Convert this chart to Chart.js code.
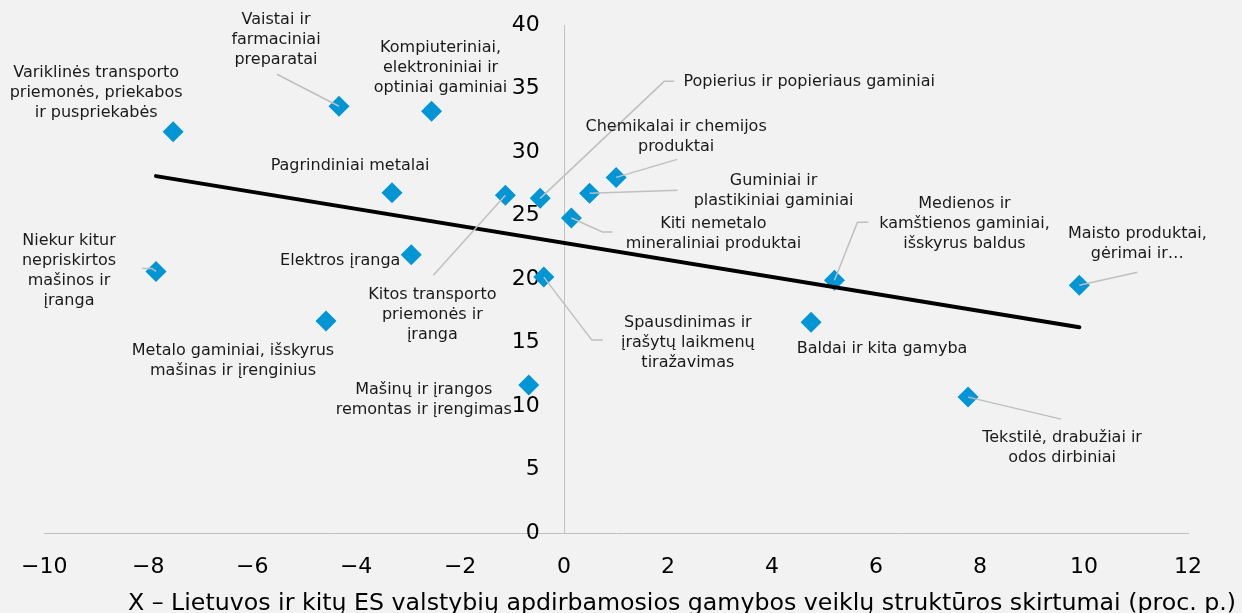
<!DOCTYPE html>
<html>
<head>
<meta charset="utf-8">
<script src="https://cdn.jsdelivr.net/npm/chart.js@4.4.1/dist/chart.umd.min.js"></script>
<style>
  html, body { margin: 0; padding: 0; background: #f2f2f2; }
  canvas { display: block; }
</style>
</head>
<body>
<canvas id="sector-chart" width="1242" height="613"></canvas>
<script>
// --- Data ---
const sectors = [
    'Variklinės transporto\npriemonės, priekabos\nir puspriekabės',
    'Vaistai ir\nfarmaciniai\npreparatai',
    'Kompiuteriniai,\nelektroniniai ir\noptiniai gaminiai',
    'Pagrindiniai metalai',
    'Kitos transporto\npriemonės ir\nįranga',
    'Popierius ir popieriaus gaminiai',
    'Chemikalai ir chemijos\nproduktai',
    'Guminiai ir\nplastikiniai gaminiai',
    'Kiti nemetalo\nmineraliniai produktai',
    'Elektros įranga',
    'Niekur kitur\nnepriskirtos\nmašinos ir\nįranga',
    'Spausdinimas ir\nįrašytų laikmenų\ntiražavimas',
    'Metalo gaminiai, išskyrus\nmašinas ir įrenginius',
    'Mašinų ir įrangos\nremontas ir įrengimas',
    'Medienos ir\nkamštienos gaminiai,\nišskyrus baldus',
    'Baldai ir kita gamyba',
    'Maisto produktai,\ngėrimai ir…',
    'Tekstilė, drabužiai ir\nodos dirbiniai'
];
const structureDiff = [-7.52, -4.33, -2.55, -3.31, -1.13, -0.46, 1.00, 0.49, 0.14, -2.94, -7.85, -0.39, -4.58, -0.68, 5.20, 4.75, 9.91, 7.77];
const sectorValue   = [31.6, 33.6, 33.2, 26.8, 26.6, 26.35, 28.0, 26.75, 24.8, 21.9, 20.6, 20.15, 16.7, 11.65, 19.9, 16.6, 19.5, 10.7];

// trend line ends (from min x to max x)
const trendX = [-7.85, 9.91];
const trendY = [28.1, 16.2];

const xTickValues = [-10, -8, -6, -4, -2, 0, 2, 4, 6, 8, 10, 12];
const yTickValues = [0, 5, 10, 15, 20, 25, 30, 35, 40];
const xTitle = 'X – Lietuvos ir kitų ES valstybių apdirbamosios gamybos veiklų struktūros skirtumai (proc. p.)';

// label placement in pixels relative to each marker: first line centre + leader polyline
const labelLayout = [
    { dx: -77, dy: -59 },
    { dx: -63, dy: -86, leader: [[-62, -32], [0, 0]] },
    { dx: 9, dy: -64 },
    { dx: -42, dy: -27 },
    { dx: -73, dy: 100, leader: [[-72, 80], [0, 0]] },
    { dx: 269, dy: -117, leader: [[0, 0], [124, -117], [134, -117]] },
    { dx: 60, dy: -51, leader: [[0, 0], [61, -18]] },
    { dx: 184, dy: -12, leader: [[0, 0], [88, -3]] },
    { dx: 142, dy: 6, leader: [[0, 0], [31, 14], [41, 14]] },
    { dx: -71, dy: 6 },
    { dx: -87, dy: -31, leader: [[-14, -3], [-4, -3], [0, 0]] },
    { dx: 144, dy: 46, leader: [[0, 0], [48, 63], [59, 63]] },
    { dx: -93, dy: 30 },
    { dx: -105, dy: 5 },
    { dx: 130, dy: -76, leader: [[0, 0], [23, -58], [34, -58]] },
    { dx: 71, dy: 27 },
    { dx: 58, dy: -52, leader: [[0, 0], [58, -13]] },
    { dx: 94, dy: 41, leader: [[0, 0], [93, 22]] }
];

const FONT = "'DejaVu Sans', Verdana, sans-serif";
const points = structureDiff.map((x, i) => ({ x: x, y: sectorValue[i] }));
const trend = trendX.map((x, i) => ({ x: x, y: trendY[i] }));

// draws leader lines, sector names and the x axis title
const sectorLabels = {
    id: 'sectorLabels',
    afterDatasetsDraw(chart) {
        const ctx = chart.ctx;
        const meta = chart.getDatasetMeta(1);
        ctx.save();
        meta.data.forEach((el, i) => {
            const lay = labelLayout[i];
            if (lay.leader) {
                ctx.beginPath();
                lay.leader.forEach((p, j) => {
                    if (j === 0) ctx.moveTo(el.x + p[0], el.y + p[1]);
                    else ctx.lineTo(el.x + p[0], el.y + p[1]);
                });
                ctx.strokeStyle = '#bfbfbf';
                ctx.lineWidth = 1.5;
                ctx.stroke();
            }
            ctx.font = '16px ' + FONT;
            ctx.fillStyle = '#1a1a1a';
            ctx.textAlign = 'center';
            ctx.textBaseline = 'middle';
            sectors[i].split('\n').forEach((line, k) => {
                ctx.fillText(line, el.x + lay.dx, el.y + lay.dy + k * 20);
            });
        });
        ctx.font = '23.7px ' + FONT;
        ctx.fillStyle = '#000';
        ctx.textAlign = 'center';
        ctx.textBaseline = 'middle';
        ctx.fillText(xTitle, 682, 604);
        ctx.restore();
    }
};

const yTickSetup = s => { s.ticks = yTickValues.map(v => ({ value: v })); };

new Chart(document.getElementById('sector-chart'), {
    type: 'scatter',
    data: {
        datasets: [{
            type: 'line',
            label: 'Trend',
            data: trend,
            showLine: true,
            borderColor: '#000000',
            borderWidth: 4,
            borderCapStyle: 'round',
            pointRadius: 0,
            order: 0
        }, {
            label: 'Sektoriai',
            data: points,
            pointStyle: 'rectRot',
            pointRadius: 10.5,
            pointHoverRadius: 10.5,
            backgroundColor: '#0096D6',
            borderWidth: 0,
            order: 1
        }]
    },
    options: {
        responsive: false,
        animation: false,
        devicePixelRatio: 1,
        layout: { padding: { left: 38, right: 54, top: 25, bottom: 80 } },
        plugins: { legend: { display: false }, tooltip: { enabled: false } },
        scales: {
            x: {
                type: 'linear',
                position: { y: 0 },
                min: -10,
                max: 12,
                afterBuildTicks: s => { s.ticks = xTickValues.map(v => ({ value: v })); },
                afterFit: s => { s.height = 0; },
                grid: { display: false, drawTicks: false },
                border: { display: true, color: '#c0c0c0', width: 1 },
                ticks: {
                    padding: 21,
                    color: '#000',
                    font: { family: FONT, size: 22 },
                    maxRotation: 0,
                    autoSkip: false,
                    callback: v => v < 0 ? '\u2212' + Math.abs(v) : String(v)
                }
            },
            // axis line through x = 0
            y: {
                type: 'linear',
                position: { x: 0 },
                min: 0,
                max: 40,
                afterBuildTicks: yTickSetup,
                afterFit: s => { s.width = 0; },
                grid: { display: false, drawTicks: false },
                border: { display: true, color: '#c0c0c0', width: 1 },
                ticks: { display: false }
            },
            // tick labels, set a little left of the axis line
            yLabels: {
                type: 'linear',
                axis: 'y',
                position: { x: -0.47 },
                min: 0,
                max: 40,
                afterBuildTicks: yTickSetup,
                afterFit: s => { s.width = 0; },
                grid: { display: false, drawTicks: false },
                border: { display: false },
                ticks: {
                    color: '#000',
                    font: { family: FONT, size: 22 },
                    autoSkip: false
                }
            }
        }
    },
    plugins: [sectorLabels]
});
</script>
</body>
</html>
